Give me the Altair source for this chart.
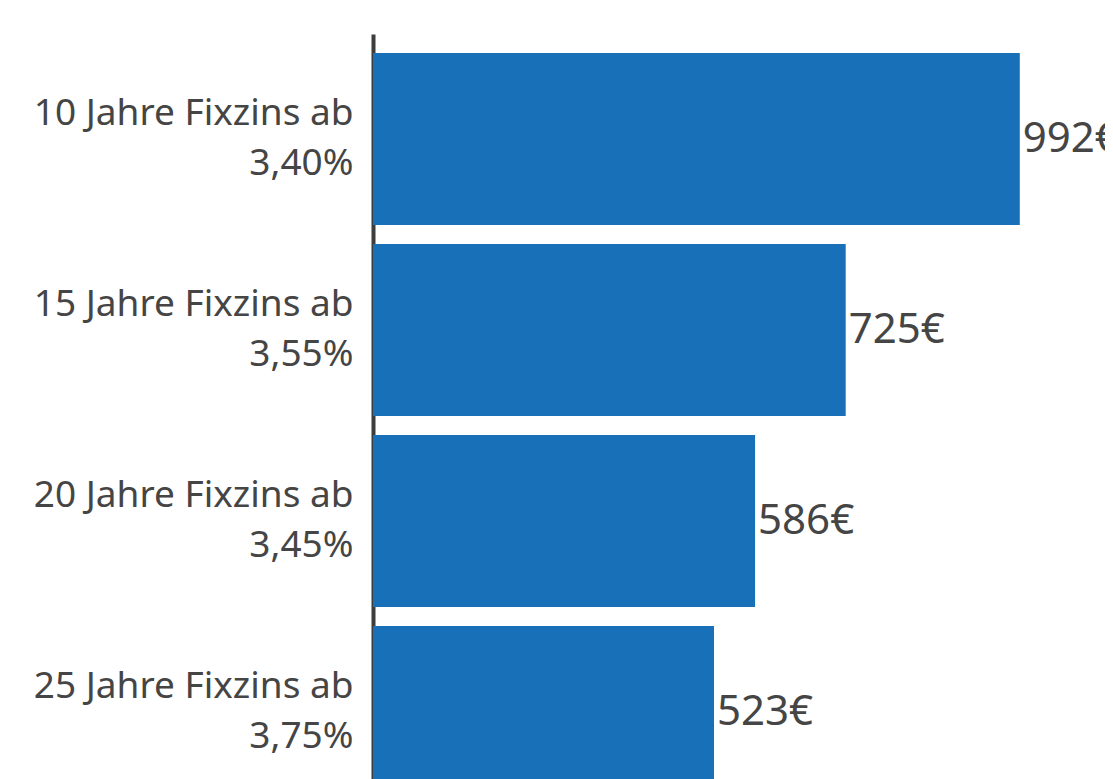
import altair as alt
import pandas as pd

categories = ["10 Jahre Fixzins ab|3,40%", "15 Jahre Fixzins ab|3,55%",
              "20 Jahre Fixzins ab|3,45%", "25 Jahre Fixzins ab|3,75%"]
values = [992, 725, 586, 523]
labels = ["992€", "725€", "586€", "523€"]

df = pd.DataFrame({"cat": categories, "val": values, "lab": labels})

FONT = "Noto Sans"
TXT = "#454545"

y = alt.Y("cat:N", sort=None, title=None,
          scale=alt.Scale(paddingInner=0.1, paddingOuter=0.1),
          axis=alt.Axis(labelExpr="split(datum.value, '|')", labelFont=FONT,
                        labelFontSize=37, labelColor=TXT, labelLineHeight=50,
                        labelPadding=20, labelOffset=-25, ticks=False,
                        domainColor="#3d3d3d", domainWidth=4, labelLimit=400))
x = alt.X("val:Q", title=None, scale=alt.Scale(domain=[0, 1000], nice=False),
          axis=None)

bars = alt.Chart(df).mark_bar(color="#1770b8").encode(x=x, y=y)
text = alt.Chart(df).mark_text(align="left", baseline="middle", dx=3,
                               font=FONT, fontSize=42, color=TXT).encode(
    x=x, y=y, text="lab:N")

chart = (bars + text).properties(
    width=652, height=783,
    autosize=alt.AutoSizeParams(type="none"),
    padding={"left": 365, "top": 26, "right": 80, "bottom": 0},
).configure_view(stroke=None)

chart.save("out.html", embed_options={"renderer": "svg", "actions": False})
